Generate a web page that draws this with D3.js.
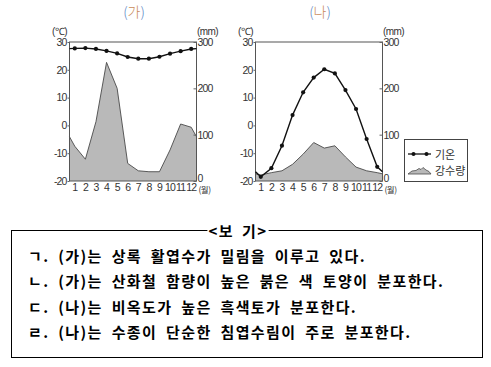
<!DOCTYPE html>
<html><head><meta charset="utf-8">
<script src="https://cdn.jsdelivr.net/npm/d3@7"></script>
<style>
body{margin:0;background:#fff;}
svg{display:block;}
</style></head>
<body>
<svg id="c" width="491" height="367"></svg>
<script>
const months = [1,2,3,4,5,6,7,8,9,10,11,12];
const tempA   = [27.7,27.8,27.5,26.8,25.9,24.6,24.0,24.0,24.7,25.8,26.7,27.5];
const precipA = [75,47,128,256,200,38,22,20,20,67,123,116];
const tempB   = [-18.5,-15.4,-7.3,3.7,11.9,17.2,20.2,18.7,12.7,5.9,-4.9,-14.9];
const precipB = [13,18,22,36,58,83,71,76,52,30,22,18];
const tempTicks = [-20,-10,0,10,20,30];
const precipTicks = [0,100,200,300];
const titles = ["가","나"];
const legendLabels = ["기온","강수량"];
const boxTitle = "<보 기>";
const statements = [
  "ㄱ. (가)는 상록 활엽수가 밀림을 이루고 있다.",
  "ㄴ. (가)는 산화철 함량이 높은 붉은 색 토양이 분포한다.",
  "ㄷ. (나)는 비옥도가 높은 흑색토가 분포한다.",
  "ㄹ. (나)는 수종이 단순한 침엽수림이 주로 분포한다."
];

const svg = d3.select("#c");
const numFont = "'Liberation Sans Narrow','Liberation Sans',Arial,sans-serif";
const krFont = "'Noto Sans CJK KR','Noto Sans',sans-serif";
const yTop = 42, yBot = 181;

function chart(x0, x1, title, temp, precip) {
  const g = svg.append("g");
  const x = d3.scaleBand().domain(months).range([x0, x1]);
  const yT = d3.scaleLinear().domain([-20, 30]).range([yBot, yTop]);
  const yP = d3.scaleLinear().domain([0, 300]).range([yBot, yTop]);
  const cx = m => x(m) + x.bandwidth() / 2;

  const eT = (temp[0] + temp[11]) / 2, eP = (precip[0] + precip[11]) / 2;
  const pP = [[x0, eP]].concat(months.map((m, i) => [cx(m), precip[i]])).concat([[x1, eP]]);
  const pT = [[x0, eT]].concat(months.map((m, i) => [cx(m), temp[i]])).concat([[x1, eT]]);

  g.append("path").datum(pP)
    .attr("d", d3.area().x(d => d[0]).y0(yBot).y1(d => yP(d[1])))
    .attr("fill", "#b9b9b9");
  g.append("path").datum(pP)
    .attr("d", d3.line().x(d => d[0]).y(d => yP(d[1])))
    .attr("fill", "none").attr("stroke", "#4a4a4a").attr("stroke-width", 0.9);

  g.append("rect").attr("x", x0).attr("y", yTop).attr("width", x1 - x0).attr("height", yBot - yTop)
    .attr("fill", "none").attr("stroke", "#555").attr("stroke-width", 1);

  g.append("path").datum(pT)
    .attr("d", d3.line().x(d => d[0]).y(d => yT(d[1])))
    .attr("fill", "none").attr("stroke", "#111").attr("stroke-width", 1.4);
  g.selectAll("circle").data(temp).join("circle")
    .attr("cx", (d, i) => cx(months[i])).attr("cy", d => yT(d)).attr("r", 2.1).attr("fill", "#111");

  const la = g.append("g").attr("transform", `translate(${x0},0)`)
    .call(d3.axisLeft(yT).tickValues(tempTicks).tickSize(2).tickPadding(1).tickFormat(d3.format("d")));
  const ra = g.append("g").attr("transform", `translate(${x1},0)`)
    .call(d3.axisRight(yP).tickValues(precipTicks).tickSizeInner(-3).tickSizeOuter(0).tickPadding(1).tickFormat(d3.format("d")));
  const ba = g.append("g").attr("transform", `translate(0,${yBot})`)
    .call(d3.axisBottom(x).tickSize(0).tickPadding(3));
  [la, ra, ba].forEach(a => {
    a.select(".domain").remove();
    a.selectAll("line").attr("stroke", "#666");
    a.selectAll("text").attr("font-family", numFont).attr("font-size", 10.5)
      .attr("letter-spacing", -0.9).attr("fill", "#333");
  });
  la.selectAll("text").text(d => d < 0 ? "-" + Math.abs(d) : d);
  ra.selectAll("text").filter(d => d === 0).attr("y", -3);

  g.append("text").attr("x", x1 + 2).attr("y", yBot + 11.5).attr("font-family", krFont)
    .attr("font-size", 8.5).attr("letter-spacing", -0.5).attr("fill", "#333").text("(월)");
  g.append("text").attr("x", x0 - 10).attr("y", 35).attr("text-anchor", "middle")
    .attr("font-family", numFont).attr("font-size", 10).attr("letter-spacing", -0.5).attr("fill", "#333").text("(℃)");
  g.append("text").attr("x", x1 + 11).attr("y", 35).attr("text-anchor", "middle")
    .attr("font-family", numFont).attr("font-size", 10).attr("letter-spacing", -0.6).attr("fill", "#333").text("(mm)");

  const t = g.append("text").attr("x", (x0 + x1) / 2 + 1).attr("y", 17).attr("text-anchor", "middle")
    .attr("font-family", krFont).attr("font-size", 14).attr("font-weight", 300);
  t.append("tspan").attr("fill", "#5b86c4").text("(");
  t.append("tspan").attr("fill", "#c98a5a").text(title);
  t.append("tspan").attr("fill", "#5b86c4").text(")");
}

chart(69.5, 196.5, titles[0], tempA, precipA);
chart(255.5, 382.5, titles[1], tempB, precipB);

const lg = svg.append("g");
lg.append("rect").attr("x", 404.5).attr("y", 139.5).attr("width", 63).attr("height", 42)
  .attr("fill", "#fff").attr("stroke", "#444");
lg.append("line").attr("x1", 408).attr("x2", 431).attr("y1", 154).attr("y2", 154)
  .attr("stroke", "#111").attr("stroke-width", 1.3);
[413.5, 426.5].forEach(px => lg.append("circle").attr("cx", px).attr("cy", 154).attr("r", 2).attr("fill", "#111"));
const icon = [[408,174],[412,171],[416,170.5],[419,168.5],[421,169.5],[423,167.5],[426,170],[429,171.5],[431,174]];
lg.append("path").attr("d", d3.line()(icon) + "Z")
  .attr("fill", "#b9b9b9").attr("stroke", "#4a4a4a").attr("stroke-width", 0.8);
legendLabels.forEach((l, i) => lg.append("text").attr("x", 435).attr("y", 154 + i * 15.5)
  .attr("dominant-baseline", "central").attr("font-family", krFont).attr("font-size", 11)
  .attr("fill", "#333").text(l));

const bx = svg.append("g");
bx.append("rect").attr("x", 11.5).attr("y", 230.5).attr("width", 471).attr("height", 127)
  .attr("fill", "none").attr("stroke", "#000").attr("stroke-width", 1);
const bt = bx.append("text").attr("x", 238).attr("y", 230.5).attr("text-anchor", "middle")
  .attr("dominant-baseline", "central").attr("font-family", krFont).attr("font-size", 15)
  .attr("font-weight", "bold").attr("letter-spacing", 1.5).attr("word-spacing", 3).text(boxTitle);
const bb = bt.node().getBBox();
bx.insert("rect", "text").attr("x", bb.x - 1).attr("y", bb.y).attr("width", bb.width + 2).attr("height", bb.height).attr("fill", "#fff");
const rowY = [255.5, 280.5, 306, 331.5];
statements.forEach((s, i) => bx.append("text").attr("x", 28).attr("y", rowY[i])
  .attr("dominant-baseline", "central").attr("font-family", krFont).attr("font-size", 15)
  .attr("font-weight", "bold").attr("letter-spacing", 1.4).attr("word-spacing", 4)
  .attr("fill", "#000").text(s));
</script>
</body></html>
